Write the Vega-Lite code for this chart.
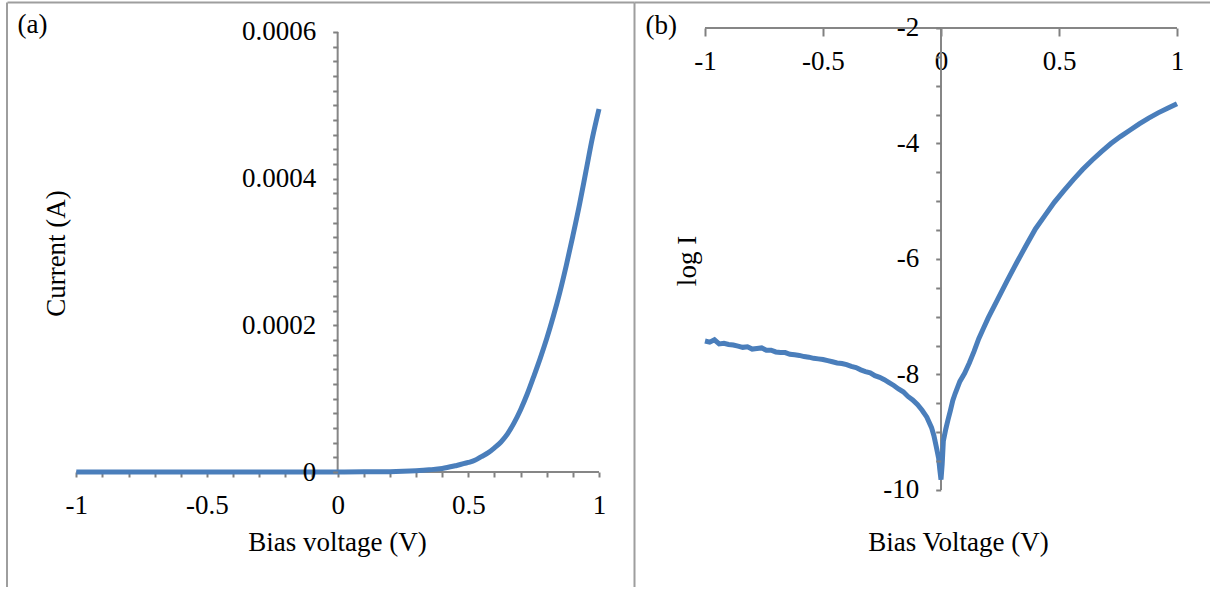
{
  "$schema": "https://vega.github.io/schema/vega-lite/v6.json",
  "autosize": {"type": "pad"},
  "padding": {"left": 6, "top": 2, "right": 0, "bottom": 0},
  "background": "white",
  "spacing": 0,
  "bounds": "flush",
  "config": {
    "view": {"stroke": null},
    "font": "Liberation Serif",
    "axis": {
      "labelFont": "Liberation Serif", "labelFontSize": 27, "labelColor": "#000000",
      "titleFont": "Liberation Serif", "titleFontSize": 27, "titleFontWeight": "normal", "titleColor": "#000000",
      "grid": false, "domain": false, "tickColor": "#808080", "tickWidth": 2, "tickOpacity": 1,
      "domainColor": "#9e9e9e", "domainWidth": 2,
      "labelOverlap": false, "labelFlush": false
    }
  },
  "datasets": {
    "a": [
      {"v": -1, "I": 0}, {"v": -0.8, "I": 0}, {"v": -0.6, "I": 0}, {"v": -0.4, "I": 0}, {"v": -0.2, "I": 0},
      {"v": 0, "I": 0}, {"v": 0.1, "I": 0.0000002}, {"v": 0.2, "I": 0.0000005}, {"v": 0.25, "I": 0.000001},
      {"v": 0.3, "I": 0.0000018}, {"v": 0.35, "I": 0.000003}, {"v": 0.4, "I": 0.0000048}, {"v": 0.45, "I": 0.0000085},
      {"v": 0.5, "I": 0.000013}, {"v": 0.525, "I": 0.000016}, {"v": 0.55, "I": 0.000021}, {"v": 0.575, "I": 0.000026},
      {"v": 0.6, "I": 0.000033}, {"v": 0.625, "I": 0.000041}, {"v": 0.65, "I": 0.000052}, {"v": 0.675, "I": 0.000067},
      {"v": 0.7, "I": 0.000085}, {"v": 0.725, "I": 0.000106}, {"v": 0.75, "I": 0.00013}, {"v": 0.775, "I": 0.000155},
      {"v": 0.8, "I": 0.000182}, {"v": 0.825, "I": 0.000212}, {"v": 0.85, "I": 0.000245}, {"v": 0.875, "I": 0.000282},
      {"v": 0.9, "I": 0.000322}, {"v": 0.925, "I": 0.000364}, {"v": 0.95, "I": 0.00041}, {"v": 0.975, "I": 0.000456},
      {"v": 1, "I": 0.000495}
    ],
    "b": [
      {"v": -1, "logI": -7.42}, {"v": -0.98, "logI": -7.44}, {"v": -0.96, "logI": -7.4}, {"v": -0.94, "logI": -7.47},
      {"v": -0.92, "logI": -7.46}, {"v": -0.9, "logI": -7.48}, {"v": -0.88, "logI": -7.49}, {"v": -0.86, "logI": -7.51},
      {"v": -0.84, "logI": -7.53}, {"v": -0.82, "logI": -7.52}, {"v": -0.8, "logI": -7.56}, {"v": -0.78, "logI": -7.55},
      {"v": -0.76, "logI": -7.54}, {"v": -0.74, "logI": -7.58}, {"v": -0.72, "logI": -7.58}, {"v": -0.7, "logI": -7.61},
      {"v": -0.68, "logI": -7.62}, {"v": -0.66, "logI": -7.62}, {"v": -0.64, "logI": -7.65}, {"v": -0.62, "logI": -7.66},
      {"v": -0.6, "logI": -7.67}, {"v": -0.58, "logI": -7.69}, {"v": -0.56, "logI": -7.7}, {"v": -0.54, "logI": -7.72},
      {"v": -0.52, "logI": -7.73}, {"v": -0.5, "logI": -7.74}, {"v": -0.48, "logI": -7.76}, {"v": -0.46, "logI": -7.78},
      {"v": -0.44, "logI": -7.8}, {"v": -0.42, "logI": -7.81}, {"v": -0.4, "logI": -7.83}, {"v": -0.38, "logI": -7.86},
      {"v": -0.36, "logI": -7.88}, {"v": -0.34, "logI": -7.92}, {"v": -0.32, "logI": -7.95}, {"v": -0.3, "logI": -7.97},
      {"v": -0.28, "logI": -8.02}, {"v": -0.26, "logI": -8.05}, {"v": -0.24, "logI": -8.09}, {"v": -0.22, "logI": -8.14},
      {"v": -0.2, "logI": -8.19}, {"v": -0.18, "logI": -8.25}, {"v": -0.16, "logI": -8.3}, {"v": -0.14, "logI": -8.38},
      {"v": -0.12, "logI": -8.44}, {"v": -0.1, "logI": -8.52}, {"v": -0.08, "logI": -8.62}, {"v": -0.06, "logI": -8.74},
      {"v": -0.04, "logI": -8.92}, {"v": -0.03, "logI": -9.06}, {"v": -0.02, "logI": -9.25}, {"v": -0.01, "logI": -9.45},
      {"v": -0.005, "logI": -9.65}, {"v": 0, "logI": -9.82}, {"v": 0.005, "logI": -9.55}, {"v": 0.01, "logI": -9.15},
      {"v": 0.02, "logI": -8.95}, {"v": 0.03, "logI": -8.78}, {"v": 0.04, "logI": -8.62}, {"v": 0.05, "logI": -8.45},
      {"v": 0.06, "logI": -8.33}, {"v": 0.08, "logI": -8.12}, {"v": 0.1, "logI": -7.98}, {"v": 0.12, "logI": -7.8},
      {"v": 0.14, "logI": -7.6}, {"v": 0.16, "logI": -7.38}, {"v": 0.18, "logI": -7.2}, {"v": 0.2, "logI": -7.02},
      {"v": 0.24, "logI": -6.7}, {"v": 0.28, "logI": -6.38}, {"v": 0.32, "logI": -6.07}, {"v": 0.36, "logI": -5.77},
      {"v": 0.4, "logI": -5.48}, {"v": 0.44, "logI": -5.25}, {"v": 0.48, "logI": -5.02}, {"v": 0.52, "logI": -4.82},
      {"v": 0.56, "logI": -4.63}, {"v": 0.6, "logI": -4.45}, {"v": 0.64, "logI": -4.29}, {"v": 0.68, "logI": -4.14},
      {"v": 0.72, "logI": -4.0}, {"v": 0.76, "logI": -3.88}, {"v": 0.8, "logI": -3.77}, {"v": 0.84, "logI": -3.66},
      {"v": 0.88, "logI": -3.56}, {"v": 0.92, "logI": -3.47}, {"v": 0.96, "logI": -3.39}, {"v": 1, "logI": -3.31}
    ],
    "axa_h": [{"x1": -1, "x2": 1, "y1": 0, "y2": 0}],
    "axa_v": [{"x1": 0, "x2": 0, "y1": 0, "y2": 0.0006}],
    "axb_h": [{"x1": -1, "x2": 1, "y1": -2, "y2": -2}],
    "axb_v": [{"x1": 0, "x2": 0, "y1": -10, "y2": -2}]
  },
  "hconcat": [
    {
      "width": 627,
      "height": 585,
      "resolve": {"axis": {"x": "independent", "y": "independent"}},
      "layer": [
        {
          "data": {"name": "axa_h"},
          "mark": {"type": "rule", "color": "#868686", "strokeWidth": 2},
          "encoding": {
            "x": {"field": "x1", "type": "quantitative",
                  "scale": {"domain": [-1.2652, 1.1339], "nice": false, "zero": false},
                  "axis": {"orient": "top", "domain": true, "title": "(a)", "ticks": false, "labels": false,
                           "titleX": 10, "titleY": 30, "titleAlign": "left", "titleBaseline": "alphabetic"}},
            "x2": {"field": "x2"},
            "y": {"field": "y1", "type": "quantitative",
                  "scale": {"domain": [-0.0001568, 0.0006409], "nice": false, "zero": false},
                  "axis": {"orient": "right", "domain": true, "ticks": false, "labels": false, "title": null}},
            "y2": {"field": "y2"}
          }
        },
        {
          "data": {"name": "axa_v"},
          "mark": {"type": "rule", "color": "#868686", "strokeWidth": 2},
          "encoding": {
            "x": {"field": "x1", "type": "quantitative",
                  "scale": {"domain": [-1.2652, 1.1339], "nice": false, "zero": false},
                  "axis": null},
            "x2": {"field": "x2"},
            "y": {"field": "y1", "type": "quantitative",
                  "scale": {"domain": [-0.0001568, 0.0006409], "nice": false, "zero": false},
                  "axis": {"orient": "left", "domain": true, "ticks": false, "labels": false, "title": null, "offset": 0.5}},
            "y2": {"field": "y2"}
          }
        },
        {
          "data": {"name": "a"},
          "mark": {"type": "line", "color": "#4a7ebb", "strokeWidth": 5, "interpolate": "monotone"},
          "encoding": {
            "x": {"field": "v", "type": "quantitative",
                  "scale": {"domain": [-1.2652, 1.1339], "nice": false, "zero": false},
                  "axis": {"orient": "bottom", "offset": -115, "ticks": true,
                           "values": [-1,-0.9,-0.8,-0.7,-0.6,-0.5,-0.4,-0.3,-0.2,-0.1,0,0.1,0.2,0.3,0.4,0.5,0.6,0.7,0.8,0.9,1],
                           "labelExpr": "abs(datum.value*2 - round(datum.value*2)) < 0.001 ? toString(datum.value) : ''",
                           "tickSize": 5, "labelPadding": 36, "labelBaseline": "alphabetic",
                           "title": "Bias voltage (V)", "titleX": 330, "titleY": 78, "titleBaseline": "alphabetic"}},
            "y": {"field": "I", "type": "quantitative",
                  "scale": {"domain": [-0.0001568, 0.0006409], "nice": false, "zero": false},
                  "axis": {"orient": "left", "offset": -330.7, "ticks": true,
                           "values": [0,0.00002,0.00004,0.00006,0.00008,0.0001,0.00012,0.00014,0.00016,0.00018,0.0002,0.00022,0.00024,0.00026,0.00028,0.0003,0.00032,0.00034,0.00036,0.00038,0.0004,0.00042,0.00044,0.00046,0.00048,0.0005,0.00052,0.00054,0.00056,0.00058,0.0006],
                           "labelExpr": "abs(datum.value*5000 - round(datum.value*5000)) < 0.001 ? toString(datum.value) : ''",
                           "tickSize": 5, "labelPadding": 17, "zindex": 1,
                           "title": "Current (A)", "titleX": -273.7, "titleY": 251, "titleBaseline": "alphabetic"}}
          }
        }
      ]
    },
    {
      "width": 576,
      "height": 585,
      "resolve": {"axis": {"x": "independent", "y": "independent"}},
      "layer": [
        {
          "data": {"name": "axb_h"},
          "mark": {"type": "rule", "color": "#868686", "strokeWidth": 2},
          "encoding": {
            "x": {"field": "x1", "type": "quantitative",
                  "scale": {"domain": [-1.3008, 1.1398], "nice": false, "zero": false},
                  "axis": {"orient": "top", "domain": true, "title": "(b)", "ticks": false, "labels": false,
                           "titleX": 11, "titleY": 31, "titleAlign": "left", "titleBaseline": "alphabetic"}},
            "x2": {"field": "x2"},
            "y": {"field": "y1", "type": "quantitative",
                  "scale": {"domain": [-11.68, -1.55], "nice": false, "zero": false},
                  "axis": null},
            "y2": {"field": "y2"}
          }
        },
        {
          "data": {"name": "axb_v"},
          "mark": {"type": "rule", "color": "#868686", "strokeWidth": 2},
          "encoding": {
            "x": {"field": "x1", "type": "quantitative",
                  "scale": {"domain": [-1.3008, 1.1398], "nice": false, "zero": false},
                  "axis": null},
            "x2": {"field": "x2"},
            "y": {"field": "y1", "type": "quantitative",
                  "scale": {"domain": [-11.68, -1.55], "nice": false, "zero": false},
                  "axis": null},
            "y2": {"field": "y2"}
          }
        },
        {
          "data": {"name": "b"},
          "mark": {"type": "line", "color": "#4a7ebb", "strokeWidth": 5},
          "encoding": {
            "x": {"field": "v", "type": "quantitative",
                  "scale": {"domain": [-1.3008, 1.1398], "nice": false, "zero": false},
                  "axis": {"orient": "bottom", "offset": -559, "ticks": true,
                           "values": [-1,-0.5,0,0.5,1],
                           "labelExpr": "toString(datum.value)",
                           "tickSize": 8, "labelPadding": 33, "labelBaseline": "alphabetic",
                           "title": "Bias Voltage (V)", "titleX": 324, "titleY": 522, "titleBaseline": "alphabetic"}},
            "y": {"field": "logI", "type": "quantitative",
                  "scale": {"domain": [-11.68, -1.55], "nice": false, "zero": false},
                  "axis": {"orient": "left", "offset": -306.7, "ticks": true,
                           "values": [-10,-9.5,-9,-8.5,-8,-7.5,-7,-6.5,-6,-5.5,-5,-4.5,-4,-3.5,-3,-2.5,-2],
                           "labelExpr": "abs(datum.value/2 - round(datum.value/2)) < 0.001 ? toString(datum.value) : ''",
                           "tickSize": 5, "labelPadding": 17, "zindex": 1,
                           "title": "log I", "titleX": -245.7, "titleY": 258.5, "titleBaseline": "alphabetic"}}
          }
        }
      ]
    }
  ]
}
